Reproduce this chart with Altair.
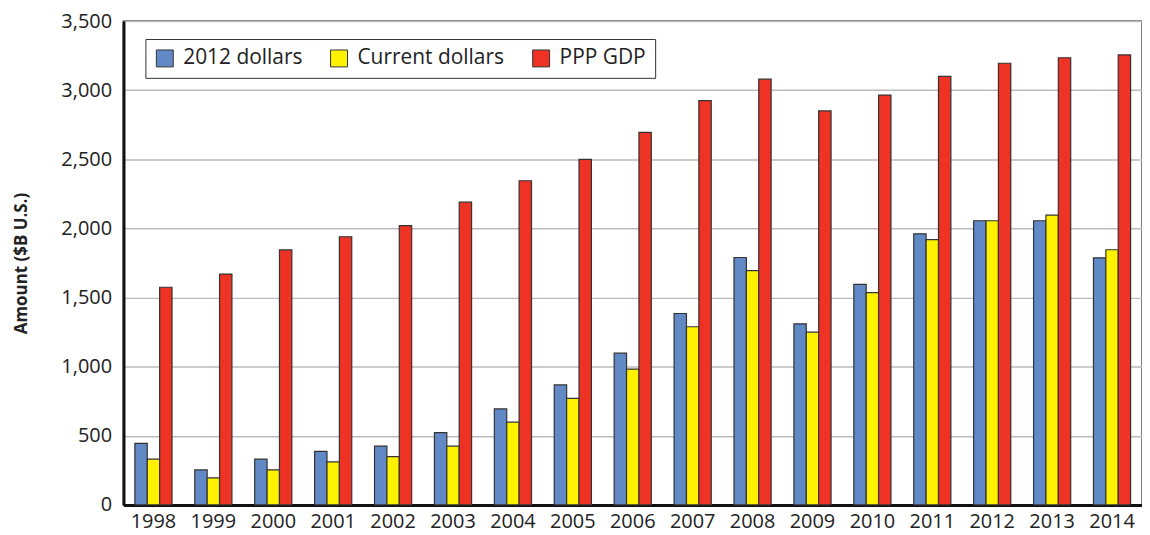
import altair as alt
import pandas as pd

years = [str(y) for y in range(1998, 2015)]
series_names = ["2012 dollars", "Current dollars", "PPP GDP"]
dollars_2012 = [446, 254, 331, 388, 426, 523, 695, 868, 1098, 1385, 1790, 1310, 1596, 1961, 2056, 2056, 1788]
current_dollars = [331, 196, 254, 311, 350, 426, 599, 771, 983, 1289, 1695, 1250, 1536, 1920, 2056, 2097, 1846]
ppp_gdp = [1575, 1670, 1845, 1940, 2020, 2190, 2345, 2500, 2695, 2925, 3080, 2850, 2965, 3100, 3195, 3235, 3255]
colors = ["#6189C6", "#FFF200", "#EE3224"]

rows = []
for name, vals in zip(series_names, [dollars_2012, current_dollars, ppp_gdp]):
    for y, v in zip(years, vals):
        rows.append({"Year": y, "Series": name, "Amount": v})
df = pd.DataFrame(rows)

FONT = "Open Sans"

chart = alt.Chart(df).mark_bar(stroke="#333333", strokeWidth=1.2).encode(
    x=alt.X("Year:N", title=None, sort=years,
            scale=alt.Scale(paddingInner=0.38, paddingOuter=0.19),
            axis=alt.Axis(labelAngle=0, labelFontSize=20, labelColor="#222",
                          labelFont=FONT, ticks=False, domainColor="#111",
                          domainWidth=3, labelPadding=7)),
    xOffset=alt.XOffset("Series:N", sort=series_names),
    y=alt.Y("Amount:Q", title="Amount ($B U.S.)",
            scale=alt.Scale(domain=[0, 3500], nice=False),
            axis=alt.Axis(values=list(range(0, 3501, 500)), format=",d",
                          labelFontSize=20, labelColor="#222", labelFont=FONT,
                          ticks=False, domainColor="#111", domainWidth=3,
                          gridColor="#BBBBBB", gridWidth=1.5, labelPadding=12,
                          titleFont=FONT, titleFontSize=17, titleFontWeight="bold",
                          titleColor="#222", titlePadding=31)),
    color=alt.Color("Series:N", sort=series_names,
                    scale=alt.Scale(domain=series_names, range=colors),
                    legend=alt.Legend(title=None, orient="none", legendX=22, legendY=18,
                                      direction="horizontal", symbolType="square",
                                      symbolSize=289, symbolStrokeColor="#333",
                                      symbolStrokeWidth=1, labelFontSize=21,
                                      labelFont=FONT, labelColor="#222",
                                      strokeColor="#333", fillColor="white",
                                      padding=9, columnPadding=26, labelOffset=8)),
).properties(
    width=1023, height=486,
    autosize=alt.AutoSizeParams(type="none"),
    padding={"left": 116, "top": 12, "right": 0, "bottom": 27},
).configure_view(stroke="#555555", strokeWidth=1.5)

chart.save("out.html", embed_options={"renderer": "svg", "actions": False})
